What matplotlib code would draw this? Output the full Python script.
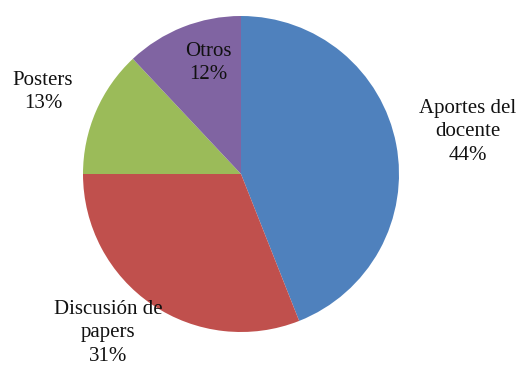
import matplotlib.pyplot as plt

# Distribución de actividades
categorias = ["Aportes del\ndocente", "Discusión de\npapers", "Posters", "Otros"]
porcentajes = [44, 31, 13, 12]
colores = ["#4F81BD", "#C0504D", "#9BBB59", "#8064A2"]

# posiciones de etiquetas (en píxeles de la figura, y hacia arriba)
pos_etiquetas = [(468, 233), (108, 32), (43, 273), (208, 302)]

plt.rcParams["font.family"] = ["Liberation Serif", "DejaVu Serif"]

fig = plt.figure(figsize=(5.23, 3.65), dpi=100)
ax = fig.add_axes([0, 0, 1, 1])

ax.pie(porcentajes, colors=colores, startangle=90, counterclock=False,
       center=(241, 191), radius=158, frame=True,
       wedgeprops=dict(linewidth=0))
ax.set_xlim(0, 523)
ax.set_ylim(0, 365)
ax.set_aspect("equal")
ax.axis("off")

for nombre, valor, (x, y) in zip(categorias, porcentajes, pos_etiquetas):
    ax.text(x, y, f"{nombre}\n{valor}%", ha="center", va="center",
            fontsize=15, color="#111111", linespacing=1.3)

fig.savefig("out.png", dpi=100)
